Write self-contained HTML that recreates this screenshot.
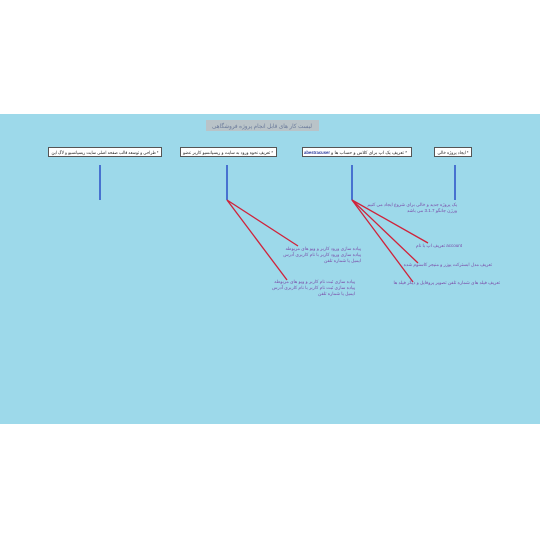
<!DOCTYPE html>
<html><head><meta charset="utf-8"><style>
html,body{margin:0;padding:0;background:#fff;width:540px;height:540px;overflow:hidden}
</style></head><body>
<svg width="540" height="540" xmlns="http://www.w3.org/2000/svg" font-family="Liberation Sans, Noto Sans CJK SC, sans-serif">
<rect x="0" y="114" width="540" height="310" fill="#9dd9ea"/>
<rect x="206" y="120" width="113" height="11" fill="#b9c3c8"/>
<text x="262" y="128" font-size="6" fill="#6a7a9a" text-anchor="middle" textLength="100" lengthAdjust="spacingAndGlyphs">لیست کار های قابل انجام پروژه فروشگاهی</text>
<g fill="#fff" stroke="#555" stroke-width="1">
<rect x="48.5" y="147.5" width="113" height="9"/>
<rect x="180.5" y="147.5" width="96" height="9"/>
<rect x="302.5" y="147.5" width="109" height="9"/>
<rect x="434.5" y="147.5" width="37" height="9"/>
</g>
<g font-size="4.5" fill="#222" text-anchor="middle">
<text x="105" y="154" textLength="107" lengthAdjust="spacingAndGlyphs">طراحی و توسعه قالب صفحه اصلی سایت ریسپانسیو و لاگ اين *</text>
<text x="228" y="154" textLength="90" lengthAdjust="spacingAndGlyphs">تعریف نحوه ورود به سایت و ریسپانسیو کاربر عضو *</text>
<text x="369" y="154" textLength="76" lengthAdjust="spacingAndGlyphs">تعریف یک اپ برای کلاس و حساب ها و *</text>
<text x="317" y="154" textLength="26" lengthAdjust="spacingAndGlyphs" fill="#223399" font-weight="bold">abestracuser</text>
<text x="453" y="154" textLength="31" lengthAdjust="spacingAndGlyphs">ایجاد پروژه خالی *</text>
</g>
<g stroke="#2a4fc8" stroke-width="1.5">
<line x1="100" y1="165" x2="100" y2="200"/>
<line x1="227" y1="165" x2="227" y2="200"/>
<line x1="352" y1="165" x2="352" y2="200"/>
<line x1="455" y1="165" x2="455" y2="200"/>
</g>
<g stroke="#d0223a" stroke-width="1.3">
<line x1="227" y1="200" x2="298" y2="246"/>
<line x1="227" y1="200" x2="287" y2="280"/>
<line x1="352" y1="200" x2="428" y2="243"/>
<line x1="352" y1="200" x2="418" y2="263"/>
<line x1="352" y1="200" x2="413" y2="282"/>
</g>
<g font-size="4.5" fill="#7a4aa8" text-anchor="end">
<text x="457" y="206">یک پروژه جدید و خالی برای شروع ایجاد می کنیم</text>
<text x="457" y="212">ورژن جانگو 3.1.7 می باشد</text>
<text x="361" y="250">پیاده سازی ورود کاربر و ویو های مربوطه</text>
<text x="361" y="256">پیاده سازی ورود کاربر با نام کاربری آدرس</text>
<text x="361" y="262">ایمیل یا شماره تلفن</text>
<text x="355" y="283">پیاده سازی ثبت نام کاربر و ویو های مربوطه</text>
<text x="355" y="289">پیاده سازی ثبت نام کاربر با نام کاربری آدرس</text>
<text x="355" y="295">ایمیل یا شماره تلفن</text>
<text x="462" y="247">تعریف اپ با نام account</text>
<text x="492" y="266">تعریف مدل ابسترکت یوزر و منیجر کاستوم شده</text>
<text x="500" y="284">تعریف فیلد های شماره تلفن تصویر پروفایل و دیگر فیلد ها</text>
</g>
</svg>
</body></html>
